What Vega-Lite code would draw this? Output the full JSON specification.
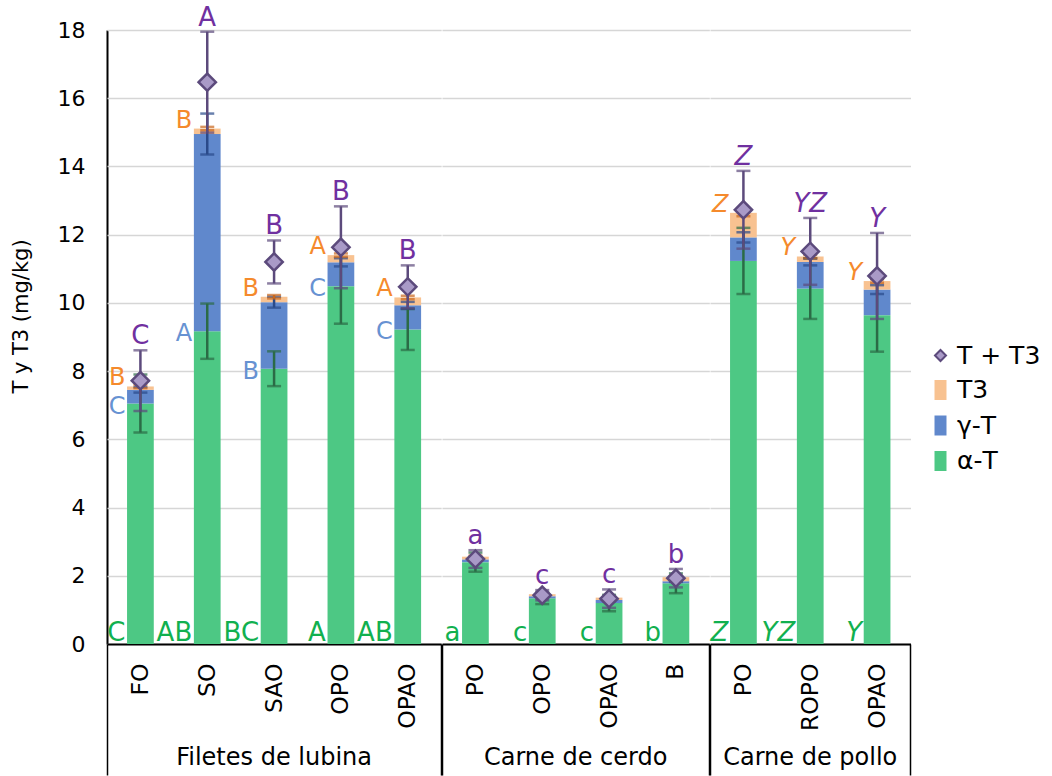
{
  "$schema": "https://vega.github.io/schema/vega-lite/v6.json",
  "background": "white",
  "padding": {"left": 10, "top": 4, "right": 0, "bottom": 0},
  "config": {
    "font": "DejaVu Sans",
    "view": {"stroke": null},
    "axis": {"labelFont": "DejaVu Sans", "titleFont": "DejaVu Sans", "labelColor": "black", "titleColor": "black", "titleFontWeight": "normal"},
    "header": {"labelFont": "DejaVu Sans", "labelColor": "black"}
  },
  "data": {
    "values": [
      {"g": "Filetes de lubina", "k": "L-FO", "comp": "α-T", "v": 7.05, "sd": 0.85, "let": "C"},
      {"g": "Filetes de lubina", "k": "L-FO", "comp": "γ-T", "v": 0.40, "sd": 0.08, "let": "C"},
      {"g": "Filetes de lubina", "k": "L-FO", "comp": "T3", "v": 0.10, "sd": 0.05, "let": "B"},
      {"g": "Filetes de lubina", "k": "L-FO", "comp": "T + T3", "v": 7.72, "sd": 0.89, "let": "C"},
      {"g": "Filetes de lubina", "k": "L-SO", "comp": "α-T", "v": 9.17, "sd": 0.81, "let": "AB"},
      {"g": "Filetes de lubina", "k": "L-SO", "comp": "γ-T", "v": 5.78, "sd": 0.60, "let": "A"},
      {"g": "Filetes de lubina", "k": "L-SO", "comp": "T3", "v": 0.16, "sd": 0.05, "let": "B"},
      {"g": "Filetes de lubina", "k": "L-SO", "comp": "T + T3", "v": 16.47, "sd": 1.48, "let": "A"},
      {"g": "Filetes de lubina", "k": "L-SAO", "comp": "α-T", "v": 8.07, "sd": 0.51, "let": "BC"},
      {"g": "Filetes de lubina", "k": "L-SAO", "comp": "γ-T", "v": 1.95, "sd": 0.16, "let": "B"},
      {"g": "Filetes de lubina", "k": "L-SAO", "comp": "T3", "v": 0.16, "sd": 0.05, "let": "B"},
      {"g": "Filetes de lubina", "k": "L-SAO", "comp": "T + T3", "v": 11.20, "sd": 0.63, "let": "B"},
      {"g": "Filetes de lubina", "k": "L-OPO", "comp": "α-T", "v": 10.49, "sd": 1.10, "let": "A"},
      {"g": "Filetes de lubina", "k": "L-OPO", "comp": "γ-T", "v": 0.70, "sd": 0.12, "let": "C"},
      {"g": "Filetes de lubina", "k": "L-OPO", "comp": "T3", "v": 0.21, "sd": 0.05, "let": "A"},
      {"g": "Filetes de lubina", "k": "L-OPO", "comp": "T + T3", "v": 11.63, "sd": 1.20, "let": "B"},
      {"g": "Filetes de lubina", "k": "L-OPAO", "comp": "α-T", "v": 9.22, "sd": 0.60, "let": "AB"},
      {"g": "Filetes de lubina", "k": "L-OPAO", "comp": "γ-T", "v": 0.71, "sd": 0.10, "let": "C"},
      {"g": "Filetes de lubina", "k": "L-OPAO", "comp": "T3", "v": 0.23, "sd": 0.05, "let": "A"},
      {"g": "Filetes de lubina", "k": "L-OPAO", "comp": "T + T3", "v": 10.47, "sd": 0.63, "let": "B"},
      {"g": "Carne de cerdo", "k": "C-PO", "comp": "α-T", "v": 2.40, "sd": 0.28, "let": "a"},
      {"g": "Carne de cerdo", "k": "C-PO", "comp": "γ-T", "v": 0.08, "sd": 0.03, "let": ""},
      {"g": "Carne de cerdo", "k": "C-PO", "comp": "T3", "v": 0.08, "sd": 0.03, "let": ""},
      {"g": "Carne de cerdo", "k": "C-PO", "comp": "T + T3", "v": 2.49, "sd": 0.26, "let": "a"},
      {"g": "Carne de cerdo", "k": "C-OPO", "comp": "α-T", "v": 1.34, "sd": 0.17, "let": "c"},
      {"g": "Carne de cerdo", "k": "C-OPO", "comp": "γ-T", "v": 0.06, "sd": 0.02, "let": ""},
      {"g": "Carne de cerdo", "k": "C-OPO", "comp": "T3", "v": 0.06, "sd": 0.02, "let": ""},
      {"g": "Carne de cerdo", "k": "C-OPO", "comp": "T + T3", "v": 1.43, "sd": 0.15, "let": "c"},
      {"g": "Carne de cerdo", "k": "C-OPAO", "comp": "α-T", "v": 1.20, "sd": 0.24, "let": "c"},
      {"g": "Carne de cerdo", "k": "C-OPAO", "comp": "γ-T", "v": 0.09, "sd": 0.03, "let": ""},
      {"g": "Carne de cerdo", "k": "C-OPAO", "comp": "T3", "v": 0.07, "sd": 0.02, "let": ""},
      {"g": "Carne de cerdo", "k": "C-OPAO", "comp": "T + T3", "v": 1.33, "sd": 0.27, "let": "c"},
      {"g": "Carne de cerdo", "k": "C-B", "comp": "α-T", "v": 1.78, "sd": 0.29, "let": "b"},
      {"g": "Carne de cerdo", "k": "C-B", "comp": "γ-T", "v": 0.06, "sd": 0.02, "let": ""},
      {"g": "Carne de cerdo", "k": "C-B", "comp": "T3", "v": 0.12, "sd": 0.03, "let": ""},
      {"g": "Carne de cerdo", "k": "C-B", "comp": "T + T3", "v": 1.93, "sd": 0.27, "let": "b"},
      {"g": "Carne de pollo", "k": "P-PO", "comp": "α-T", "v": 11.23, "sd": 0.97, "let": "Z"},
      {"g": "Carne de pollo", "k": "P-PO", "comp": "γ-T", "v": 0.69, "sd": 0.15, "let": ""},
      {"g": "Carne de pollo", "k": "P-PO", "comp": "T3", "v": 0.72, "sd": 0.10, "let": "Z"},
      {"g": "Carne de pollo", "k": "P-PO", "comp": "T + T3", "v": 12.73, "sd": 1.14, "let": "Z"},
      {"g": "Carne de pollo", "k": "P-ROPO", "comp": "α-T", "v": 10.42, "sd": 0.89, "let": "YZ"},
      {"g": "Carne de pollo", "k": "P-ROPO", "comp": "γ-T", "v": 0.78, "sd": 0.10, "let": ""},
      {"g": "Carne de pollo", "k": "P-ROPO", "comp": "T3", "v": 0.16, "sd": 0.05, "let": "Y"},
      {"g": "Carne de pollo", "k": "P-ROPO", "comp": "T + T3", "v": 11.51, "sd": 0.98, "let": "YZ"},
      {"g": "Carne de pollo", "k": "P-OPAO", "comp": "α-T", "v": 9.64, "sd": 1.07, "let": "Y"},
      {"g": "Carne de pollo", "k": "P-OPAO", "comp": "γ-T", "v": 0.75, "sd": 0.13, "let": ""},
      {"g": "Carne de pollo", "k": "P-OPAO", "comp": "T3", "v": 0.25, "sd": 0.05, "let": "Y"},
      {"g": "Carne de pollo", "k": "P-OPAO", "comp": "T + T3", "v": 10.79, "sd": 1.26, "let": "Y"}
    ]
  },
  "facet": {
    "column": {
      "field": "g", "type": "nominal", "title": null,
      "sort": ["Filetes de lubina", "Carne de cerdo", "Carne de pollo"],
      "header": {"labelOrient": "bottom", "labelFontSize": 24, "labelPadding": 102}
    }
  },
  "spacing": 0,
  "bounds": "flush",
  "resolve": {"scale": {"x": "independent"}},
  "spec": {
    "width": {"step": 66.83},
    "height": 614,
    "encoding": {
      "x": {
        "field": "k", "type": "nominal", "sort": null,
        "scale": {"paddingInner": 0, "paddingOuter": 0},
        "axis": {
          "title": null, "labelAngle": -90, "labelFontSize": 23.5, "labelPadding": -112,
          "labelExpr": "slice(datum.label, 2)", "labelOverlap": false, "labelBound": false,
          "tickBand": "extent", "tickSize": 131, "tickColor": "black", "tickWidth": 1.5,
          "tickOpacity": {"condition": {"test": "datum.extra || indexof(['L-OPAO','C-B','P-OPAO'], datum.value) >= 0", "value": 1}, "value": 0},
          "domainColor": "black", "domainWidth": 2, "grid": false
        }
      }
    },
    "layer": [
      {
        "transform": [
          {"filter": "datum.comp !== 'T + T3'"},
          {"stack": "v", "groupby": ["k"], "as": ["s0", "s1"]}
        ],
        "mark": {"type": "bar", "width": {"band": 0.4}},
        "encoding": {
          "y": {
            "field": "s0", "type": "quantitative",
            "scale": {"domain": [0, 18], "nice": false},
            "axis": {
              "title": "T y T3 (mg/kg)", "titleFontSize": 21, "titlePadding": 26, "titleY": 286,
              "values": [0,0.5,1,1.5,2,2.5,3,3.5,4,4.5,5,5.5,6,6.5,7,7.5,8,8.5,9,9.5,10,10.5,11,11.5,12,12.5,13,13.5,14,14.5,15,15.5,16,16.5,17,17.5,18],
              "labelExpr": "datum.value % 2 === 0 ? datum.label : ''",
              "labelFontSize": 22, "labelPadding": 22, "ticks": false,
              "domainColor": "black", "domainWidth": 2,
              "gridColor": {"condition": {"test": "datum.value % 2 === 0", "value": "#d6d6d6"}, "value": "#ededed"},
              "gridWidth": 1.5
            }
          },
          "y2": {"field": "s1"},
          "color": {
            "field": "comp", "type": "nominal",
            "scale": {"domain": ["T + T3", "T3", "γ-T", "α-T"], "range": ["#a99ac7", "#f8c291", "#6088cc", "#4dc884"]},
            "legend": {
              "orient": "none", "legendX": 821, "legendY": 313, "title": null,
              "labelFontSize": 25, "labelFont": "DejaVu Sans", "labelColor": "black",
              "symbolSize": 400, "rowPadding": 6.5, "labelOffset": 4,
              "encode": {
                "symbols": {
                  "update": {
                    "shape": {"signal": "datum.value === 'T + T3' ? 'M-0.55,0L0,-0.55L0.55,0L0,0.55Z' : 'M-0.6,-1H0.6V1H-0.6Z'"},
                    "stroke": {"signal": "datum.value === 'T + T3' ? '#5c4a7c' : 'transparent'"},
                    "strokeWidth": {"value": 2}
                  }
                }
              }
            }
          }
        }
      },
      {
        "transform": [
          {"filter": "datum.comp !== 'T + T3'"},
          {"stack": "v", "groupby": ["k"], "as": ["s0", "s1"]},
          {"filter": "datum.comp === 'α-T'"}
        ],
        "mark": {"type": "errorbar", "color": "#2b6b46", "thickness": 2.5, "ticks": {"size": 14, "thickness": 2.5}},
        "encoding": {"y": {"field": "s1", "type": "quantitative", "title": "T y T3 (mg/kg)"}, "yError": {"field": "sd"}}
      },
      {
        "transform": [
          {"filter": "datum.comp !== 'T + T3'"},
          {"stack": "v", "groupby": ["k"], "as": ["s0", "s1"]},
          {"filter": "datum.comp === 'γ-T'"}
        ],
        "mark": {"type": "errorbar", "color": "#2a4a8a", "thickness": 2.5, "ticks": {"size": 14, "thickness": 2.5}},
        "encoding": {"y": {"field": "s1", "type": "quantitative", "title": "T y T3 (mg/kg)"}, "yError": {"field": "sd"}}
      },
      {
        "transform": [
          {"filter": "datum.comp !== 'T + T3'"},
          {"stack": "v", "groupby": ["k"], "as": ["s0", "s1"]},
          {"filter": "datum.comp === 'T3'"}
        ],
        "mark": {"type": "errorbar", "color": "#c9671c", "thickness": 2.5, "ticks": {"size": 14, "thickness": 2.5}},
        "encoding": {"y": {"field": "s1", "type": "quantitative", "title": "T y T3 (mg/kg)"}, "yError": {"field": "sd"}}
      },
      {
        "transform": [{"filter": "datum.comp === 'T + T3'"}],
        "mark": {"type": "errorbar", "color": "#5c4a7c", "thickness": 2.5, "ticks": {"size": 14, "thickness": 2.5}},
        "encoding": {"y": {"field": "v", "type": "quantitative", "title": "T y T3 (mg/kg)"}, "yError": {"field": "sd"}}
      },
      {
        "transform": [{"filter": "datum.comp === 'T + T3'"}],
        "mark": {"type": "point", "shape": "diamond", "filled": true, "fill": "#a99ac7", "stroke": "#5c4a7c", "strokeWidth": 2.5, "opacity": 1, "size": 300},
        "encoding": {"y": {"field": "v", "type": "quantitative", "title": "T y T3 (mg/kg)"}}
      },
      {
        "transform": [{"filter": "datum.comp === 'α-T'"}],
        "mark": {"type": "text", "align": "right", "baseline": "alphabetic", "dx": -15, "dy": -3, "fontSize": 26, "color": "#11b04f",
                 "fontStyle": {"expr": "datum.g === 'Carne de pollo' ? 'italic' : 'normal'"}},
        "encoding": {"y": {"datum": 0, "type": "quantitative"}, "text": {"field": "let"}}
      },
      {
        "transform": [
          {"filter": "datum.comp !== 'T + T3'"},
          {"stack": "v", "groupby": ["k"], "as": ["s0", "s1"]},
          {"filter": "datum.comp === 'γ-T'"}
        ],
        "mark": {"type": "text", "align": "right", "baseline": "middle", "dx": -15, "dy": 3, "fontSize": 24, "color": "#6792d2"},
        "encoding": {"y": {"field": "s0", "type": "quantitative", "title": "T y T3 (mg/kg)"}, "text": {"field": "let"}}
      },
      {
        "transform": [
          {"filter": "datum.comp !== 'T + T3'"},
          {"stack": "v", "groupby": ["k"], "as": ["s0", "s1"]},
          {"filter": "datum.comp === 'T3'"}
        ],
        "mark": {"type": "text", "align": "right", "baseline": "middle", "dx": -15, "dy": -8, "fontSize": 24, "color": "#f58a2c",
                 "fontStyle": {"expr": "datum.g === 'Carne de pollo' ? 'italic' : 'normal'"}},
        "encoding": {"y": {"field": "s1", "type": "quantitative", "title": "T y T3 (mg/kg)"}, "text": {"field": "let"}}
      },
      {
        "transform": [
          {"filter": "datum.comp === 'T + T3'"},
          {"fold": ["v", "sd"], "as": ["part", "amt"]},
          {"stack": "amt", "groupby": ["k"], "as": ["e0", "e1"]},
          {"filter": "datum.part === 'sd'"}
        ],
        "mark": {"type": "text", "align": "center", "baseline": "alphabetic", "dy": -6, "fontSize": 26, "color": "#7030a0",
                 "fontStyle": {"expr": "datum.g === 'Carne de pollo' ? 'italic' : 'normal'"}},
        "encoding": {"y": {"field": "e1", "type": "quantitative", "title": "T y T3 (mg/kg)"}, "text": {"field": "let"}}
      }
    ]
  }
}
